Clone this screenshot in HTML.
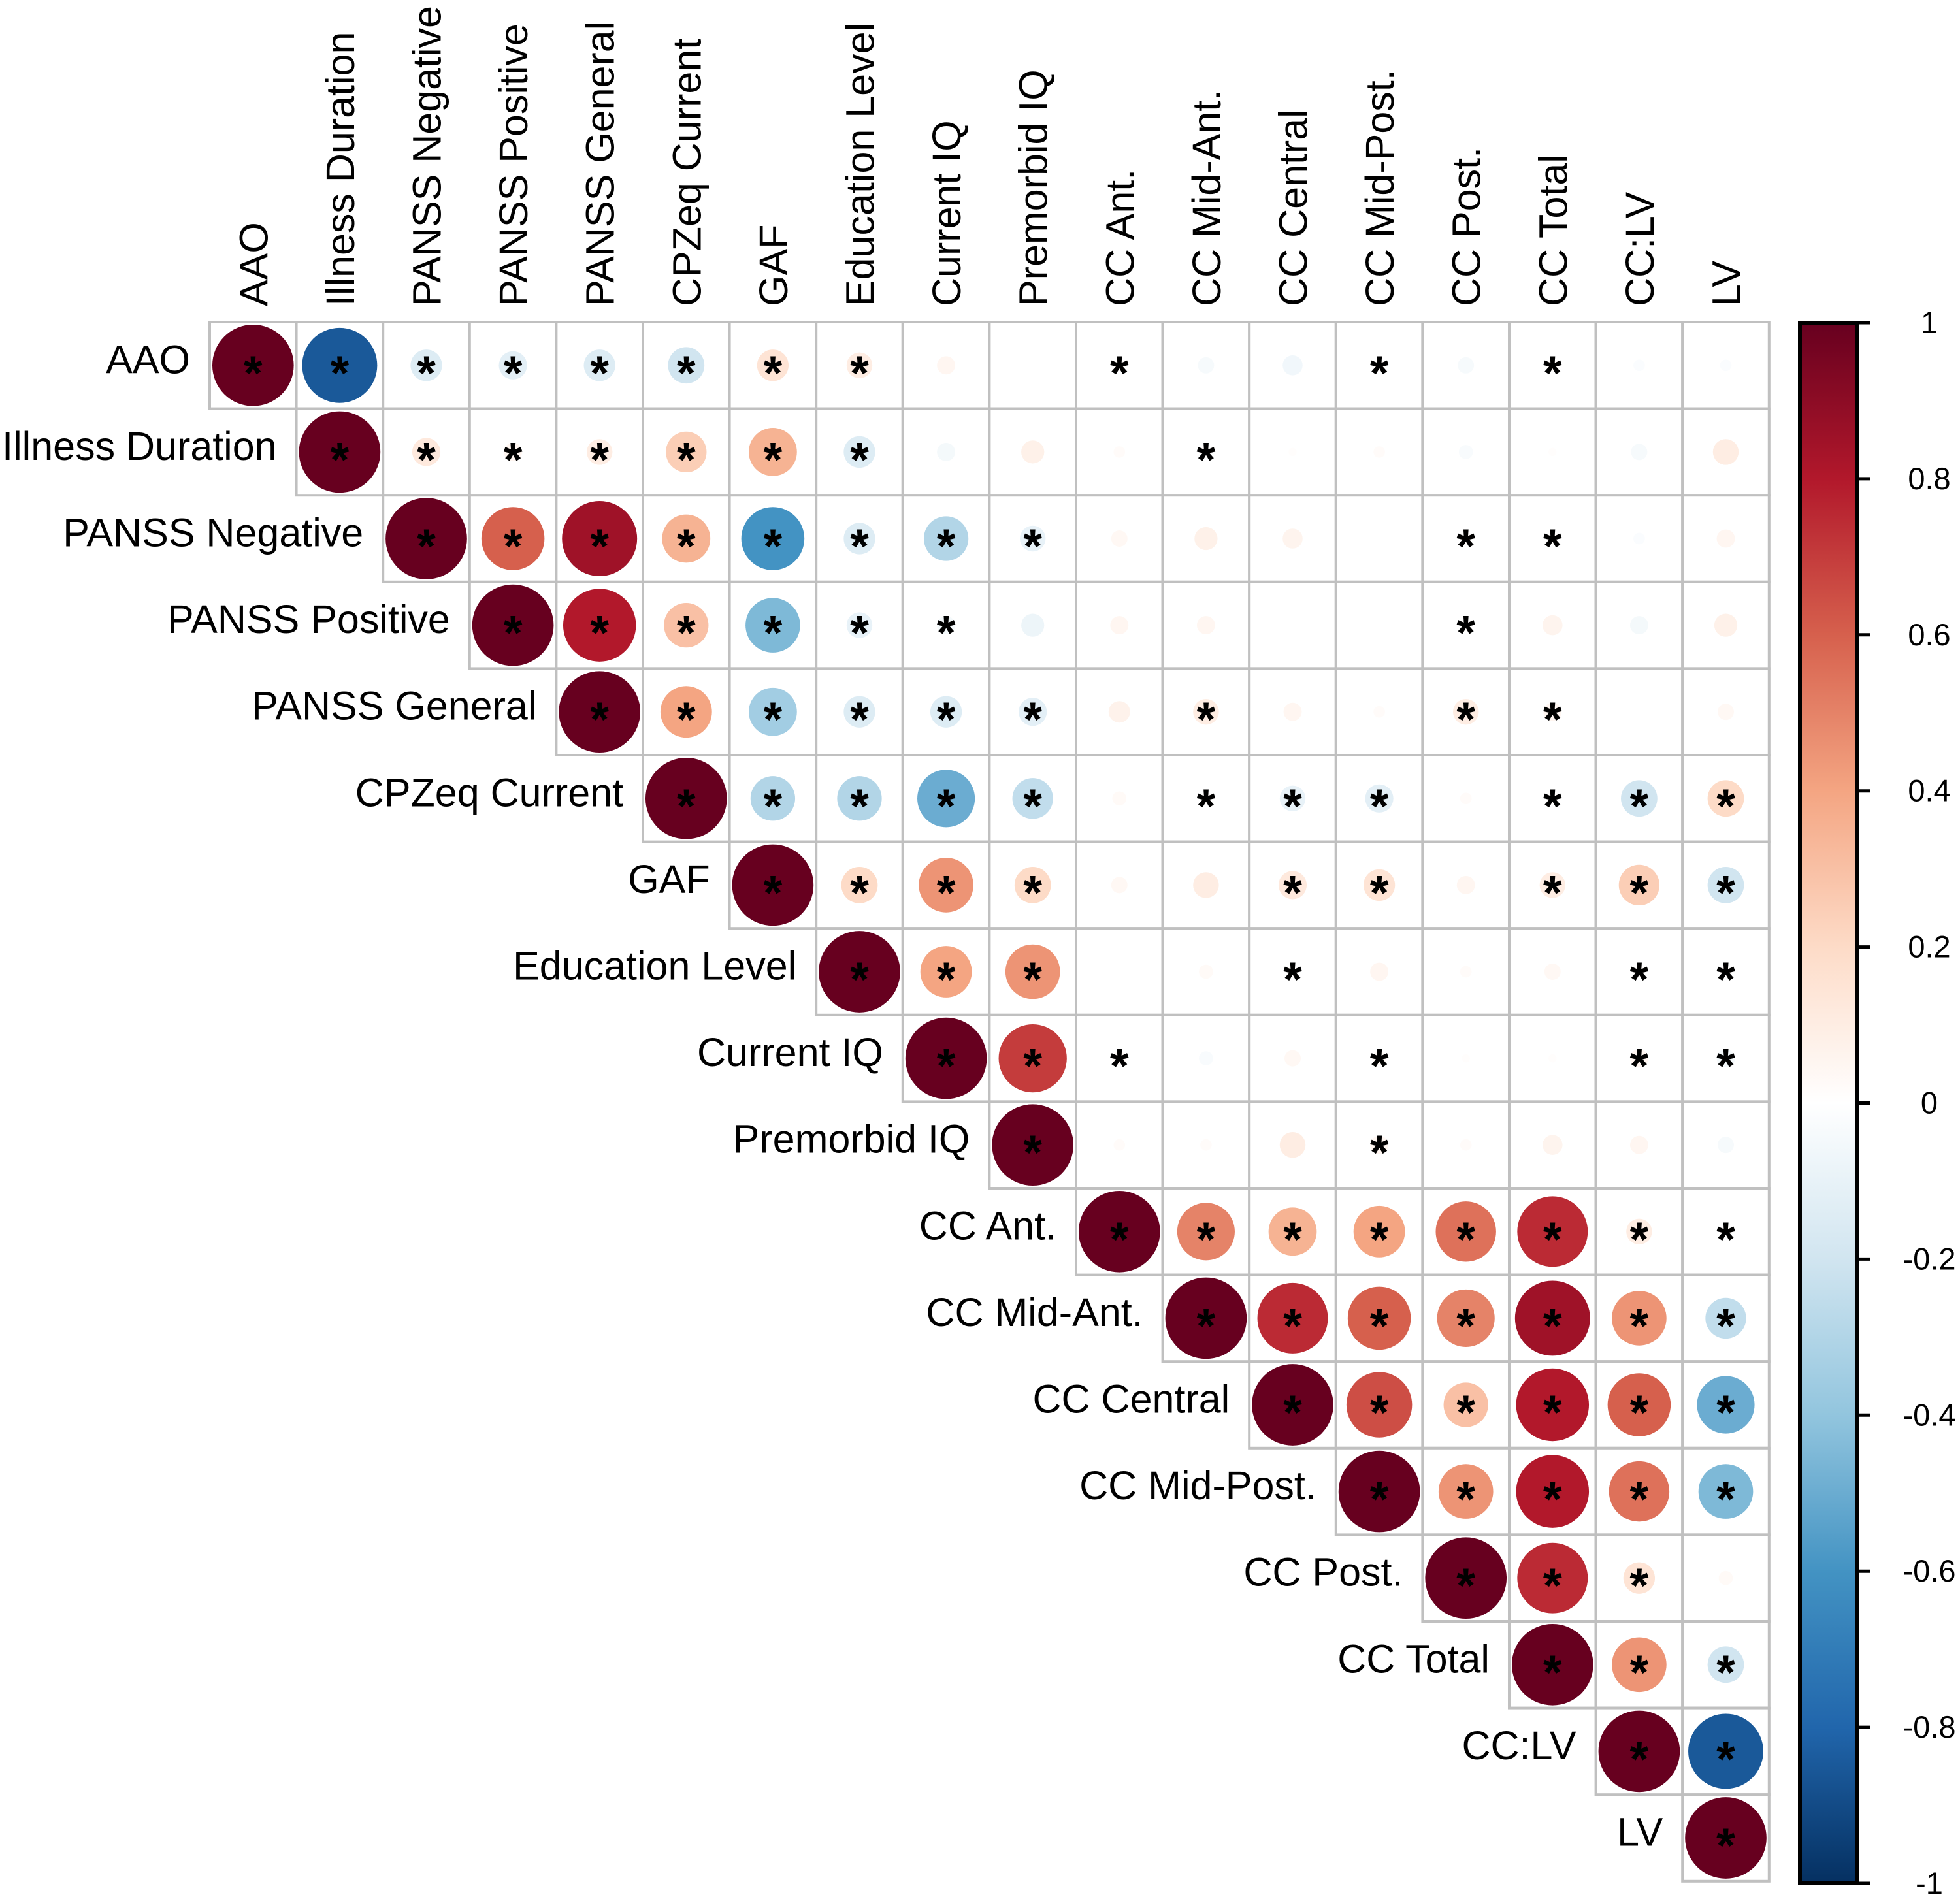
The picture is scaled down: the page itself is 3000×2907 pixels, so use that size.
<!DOCTYPE html>
<html><head><meta charset="utf-8"><style>
html,body{margin:0;padding:0;background:#fff;}
svg{display:block;font-family:"Liberation Sans",sans-serif;}
</style></head><body>
<svg id="chart" width="3000" height="2907" viewBox="0 0 3000 2907" xmlns="http://www.w3.org/2000/svg">
<g id="grid"></g>
<g id="rowlabels"></g>
<g id="collabels"></g>
<defs><linearGradient id="cbgrad" x1="0" y1="0" x2="0" y2="1"></linearGradient></defs>
<g id="colorbar"></g>
</svg>
<script>
const variables = ["AAO","Illness Duration","PANSS Negative","PANSS Positive","PANSS General","CPZeq Current","GAF","Education Level","Current IQ","Premorbid IQ","CC Ant.","CC Mid-Ant.","CC Central","CC Mid-Post.","CC Post.","CC Total","CC:LV","LV"];
// upper triangle values: row i lists cols i..17
const corrRows = [
 [1,-0.85,-0.15,-0.12,-0.15,-0.2,0.15,0.1,0.05,0,0.02,-0.04,-0.06,0.02,-0.04,0.02,-0.02,-0.02],
 [1,0.12,0.05,0.1,0.25,0.35,-0.15,-0.05,0.08,0.02,0.02,0.01,0.02,-0.03,0.01,-0.04,0.1],
 [1,0.6,0.85,0.35,-0.6,-0.15,-0.3,-0.1,0.04,0.08,0.06,0,0.02,0.02,-0.02,0.05],
 [1,0.8,0.3,-0.45,-0.1,-0.05,-0.08,0.05,0.05,0,0,0.02,0.06,-0.05,0.08],
 [1,0.4,-0.35,-0.15,-0.15,-0.12,0.07,0.1,0.05,0.02,0.1,0.05,0,0.04],
 [1,-0.3,-0.3,-0.5,-0.25,0.03,0.02,-0.1,-0.12,0.02,0.02,-0.2,0.2],
 [1,0.2,0.45,0.2,0.04,0.1,0.12,0.15,0.05,0.1,0.25,-0.2],
 [1,0.4,0.45,0,0.03,0.02,0.05,0.02,0.04,0.02,0.02],
 [1,0.7,0.03,-0.03,0.04,0.03,0.01,0.01,0.05,-0.05],
 [1,0.02,0.02,0.1,0.05,0.02,0.06,0.05,-0.04],
 [1,0.5,0.35,0.4,0.55,0.75,0.1,0.02],
 [1,0.75,0.6,0.5,0.85,0.45,-0.25],
 [1,0.65,0.3,0.8,0.6,-0.5],
 [1,0.45,0.8,0.55,-0.45],
 [1,0.75,0.15,0.03],
 [1,0.45,-0.2],
 [1,-0.85],
 [1]
];
const sigRows = [
 [1,1,1,1,1,1,1,1,0,0,1,0,0,1,0,1,0,0],
 [1,1,1,1,1,1,1,0,0,0,1,0,0,0,0,0,0],
 [1,1,1,1,1,1,1,1,0,0,0,0,1,1,0,0],
 [1,1,1,1,1,1,0,0,0,0,0,1,0,0,0],
 [1,1,1,1,1,1,0,1,0,0,1,1,0,0],
 [1,1,1,1,1,0,1,1,1,0,1,1,1],
 [1,1,1,1,0,0,1,1,0,1,1,1],
 [1,1,1,0,0,1,0,0,0,1,1],
 [1,1,1,0,0,1,0,0,1,1],
 [1,0,0,0,1,0,0,0,0],
 [1,1,1,1,1,1,1,1],
 [1,1,1,1,1,1,1],
 [1,1,1,1,1,1],
 [1,1,1,1,1],
 [1,1,1,0],
 [1,1,1],
 [1,1],
 [1]
];
const legendTicks = [1,0.8,0.6,0.4,0.2,0,-0.2,-0.4,-0.6,-0.8,-1];
const tickLabels = ["1","0.8","0.6","0.4","0.2","0","-0.2","-0.4","-0.6","-0.8","-1"];

const NS="http://www.w3.org/2000/svg";
const X0=321, Y0=493, CELL=132.6;
const palette=["#053061","#2166AC","#4393C3","#92C5DE","#D1E5F0","#FFFFFF","#FDDBC7","#F4A582","#D6604D","#B2182B","#67001F"];
function hex(h){return [1,3,5].map(i=>parseInt(h.substr(i,2),16));}
function colorFor(v){
  const t=(v+1)/2*(palette.length-1);
  const i=Math.min(palette.length-2,Math.max(0,Math.floor(t)));
  const f=t-i; const a=hex(palette[i]), b=hex(palette[i+1]);
  return "rgb("+a.map((c,k)=>Math.round(c+(b[k]-c)*f)).join(",")+")";
}
function xPos(c){return X0+c*CELL;}
function yPos(r){return Y0+r*CELL;}
function mk(tag,attrs,parent){const e=document.createElementNS(NS,tag);for(const k in attrs)e.setAttribute(k,attrs[k]);parent.appendChild(e);return e;}

const grid=document.getElementById('grid');
const n=variables.length;
for(let r=0;r<n;r++){for(let j=0;j<corrRows[r].length;j++){const c=r+j;
  const cell=mk('rect',{x:xPos(c),y:yPos(r),width:CELL,height:CELL,fill:'#fff',stroke:'#c0c0c0','stroke-width':4},grid);
  
  
}}
for(let r=0;r<n;r++){for(let j=0;j<corrRows[r].length;j++){const c=r+j;const v=corrRows[r][j];
  const cx=xPos(c)+CELL/2, cy=yPos(r)+CELL/2;
  const rad=Math.sqrt(Math.abs(v))*CELL*0.47;
  if(rad>0.5){
    const circ=mk('circle',{cx:cx,cy:cy,r:rad,fill:colorFor(v)},grid);
    
    
  }
  if(sigRows[r][j]){
    const s=mk('text',{x:cx,y:cy+37,'text-anchor':'middle','font-size':74,'font-weight':'bold',fill:'#000'},grid);
    s.textContent='*';
    
    
  }
}}
const rl=document.getElementById('rowlabels');
variables.forEach((v,i)=>{
  const t=mk('text',{x:xPos(i)-30,y:yPos(i)+CELL/2+12,'text-anchor':'end','font-size':61,fill:'#000'},rl);
  t.textContent=v;
  
  
});
const cl=document.getElementById('collabels');
variables.forEach((v,i)=>{
  const cx=xPos(i)+CELL/2+22, y=Y0-24;
  const t=mk('text',{x:cx,y:y,'text-anchor':'start','font-size':61,fill:'#000',transform:'rotate(-90 '+cx+' '+y+')'},cl);
  t.textContent=v;
  
  
});
const grad=document.getElementById('cbgrad');
palette.slice().reverse().forEach((p,i)=>{mk('stop',{offset:(i/(palette.length-1)),'stop-color':p},grad);});
const cb=document.getElementById('colorbar');
const CBX=2755, CBW=88, CBT=494, CBB=2883;
function cbY(v){return CBT+(1-v)/2*(CBB-CBT);}
const bar=mk('rect',{x:CBX,y:CBT,width:CBW,height:CBB-CBT,fill:'url(#cbgrad)',stroke:'#000','stroke-width':6},cb);


legendTicks.forEach((v,i)=>{
  const y=cbY(v);
  const tk=mk('line',{x1:CBX+CBW,x2:CBX+CBW+20,y1:y,y2:y,stroke:'#000','stroke-width':5},cb);
  
  
  const t=mk('text',{x:2953,y:y+16,'text-anchor':'middle','font-size':47,fill:'#000'},cb);
  t.textContent=tickLabels[i];
  
  
});
</script>
</body></html>
